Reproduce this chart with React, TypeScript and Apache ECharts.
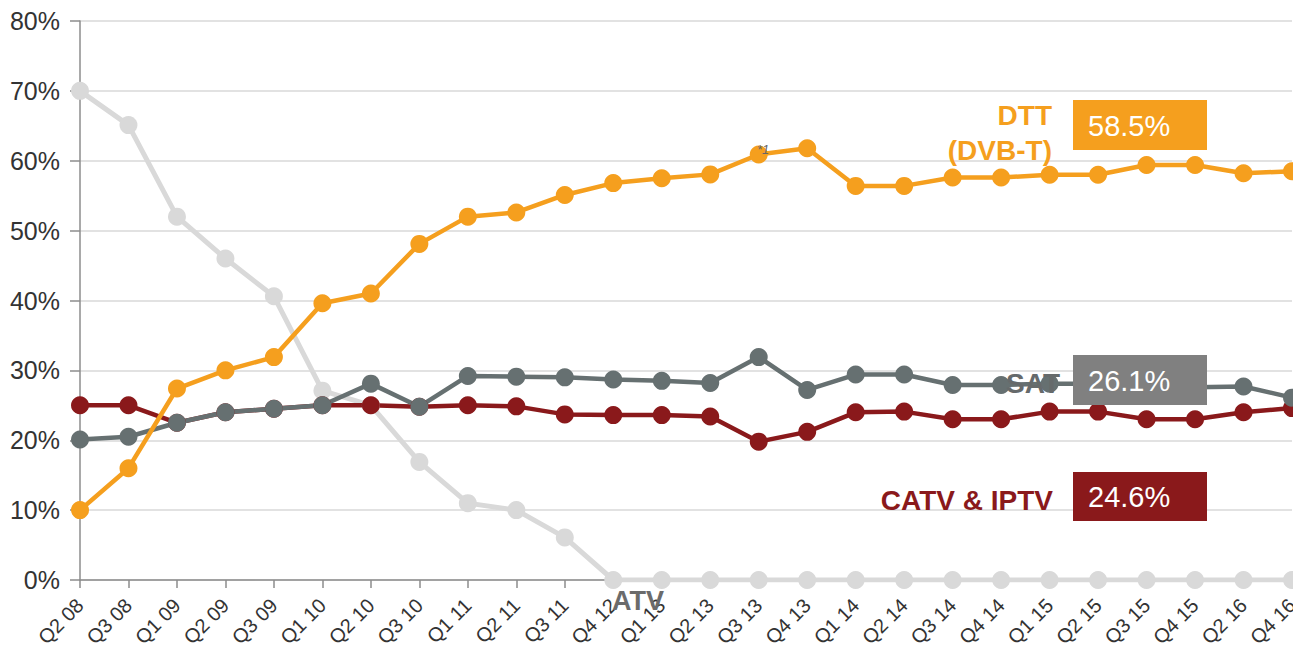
import React, { useEffect, useRef } from "react";
import * as echarts from "echarts";

const categories = [
  "Q2 08", "Q3 08", "Q1 09", "Q2 09", "Q3 09", "Q1 10", "Q2 10", "Q3 10",
  "Q1 11", "Q2 11", "Q3 11", "Q4 12", "Q1 13", "Q2 13", "Q3 13", "Q4 13",
  "Q1 14", "Q2 14", "Q3 14", "Q4 14", "Q1 15", "Q2 15", "Q3 15", "Q4 15",
  "Q2 16", "Q4 16",
];

const dttValues = [
  10, 16, 27.4, 30, 31.9, 39.6, 41, 48.1, 52, 52.6, 55.1, 56.8, 57.5, 58.05,
  60.9, 61.8, 56.4, 56.4, 57.6, 57.6, 58.0, 58.0, 59.4, 59.4, 58.2, 58.5,
];
const satValues = [
  20.1, 20.5, 22.5, 24, 24.5, 25, 28.1, 24.8, 29.2, 29.1, 29, 28.7, 28.5, 28.2,
  31.9, 27.2, 29.4, 29.4, 27.9, 27.9, 28.1, 28.1, 27.6, 27.6, 27.7, 26.1,
];
const catvValues = [
  25, 25, 22.5, 24, 24.5, 25, 25, 24.8, 25, 24.85, 23.7, 23.6, 23.6, 23.4,
  19.8, 21.2, 24, 24.1, 23, 23, 24.1, 24.1, 23, 23, 24, 24.6,
];
const atvValues = [
  70, 65.1, 52, 46, 40.6, 27.1, 25, 16.9, 11, 10, 6.1, 0, 0, 0, 0, 0, 0, 0, 0,
  0, 0, 0, 0, 0, 0, 0,
];

const yTicks = [0, 10, 20, 30, 40, 50, 60, 70, 80];

const ORANGE = "#F59F1E";
const RED = "#8A191B";
const SAT = "#667071";
const ATV = "#D9D9D9";
const BOXGRAY = "#808080";
const FONT = "'Liberation Sans', Arial, sans-serif";

function lineSeries(name: string, data: number[], color: string, width: number) {
  return {
    name,
    type: "line",
    data,
    symbol: "circle",
    symbolSize: 18,
    lineStyle: { color, width },
    itemStyle: { color },
    emphasis: { disabled: true },
    silent: true,
  };
}

export default function App() {
  const ref = useRef<HTMLDivElement>(null);

  useEffect(() => {
    document.body.style.margin = "0";
    if (!ref.current) return;
    const chart = echarts.init(ref.current, undefined, { renderer: "svg" });
    const last = (a: number[]) => a[a.length - 1].toFixed(1) + "%";

    chart.setOption({
      animation: false,
      textStyle: { fontFamily: FONT },
      grid: {
        left: 80,
        right: 1,
        top: 21,
        bottom: 72,
        containLabel: false,
        outerBoundsMode: "none",
      },
      xAxis: {
        type: "category",
        data: categories,
        boundaryGap: false,
        axisLine: { lineStyle: { color: "#8c8c8c", width: 1.5 } },
        axisTick: { show: true, length: 8, lineStyle: { color: "#8c8c8c", width: 1.5 }, alignWithLabel: true },
        axisLabel: {
          interval: 0,
          rotate: 45,
          margin: 22,
          fontSize: 20,
          color: "#333",
          fontFamily: FONT,
        },
        splitLine: { show: false },
      },
      yAxis: {
        type: "value",
        min: yTicks[0],
        max: yTicks[yTicks.length - 1],
        interval: 10,
        axisLine: { show: true, lineStyle: { color: "#8c8c8c", width: 1.5 } },
        axisTick: { show: true, length: 10, lineStyle: { color: "#8c8c8c", width: 1.5 } },
        axisLabel: {
          formatter: (v: number) => v + "%",
          fontSize: 25,
          color: "#333",
          margin: 20,
          fontFamily: FONT,
        },
        splitLine: { lineStyle: { color: "#d9d9d9", width: 1.5 } },
      },
      series: [
        lineSeries("ATV", atvValues, ATV, 5),
        lineSeries("CATV & IPTV", catvValues, RED, 4.5),
        lineSeries("SAT", satValues, SAT, 4.5),
        lineSeries("DTT", dttValues, ORANGE, 4.5),
      ],
      graphic: [
        {
          type: "text",
          z: 100,
          style: {
            x: 1052, y: 115, text: "DTT", align: "right", verticalAlign: "middle",
            font: `bold 28px ${FONT}`, fill: ORANGE,
          },
        },
        {
          type: "text",
          z: 100,
          style: {
            x: 1052, y: 150, text: "(DVB-T)", align: "right", verticalAlign: "middle",
            font: `bold 28px ${FONT}`, fill: ORANGE,
          },
        },
        {
          type: "rect", z: 100,
          shape: { x: 1073, y: 100, width: 134, height: 50 },
          style: { fill: ORANGE },
        },
        {
          type: "text", z: 101,
          style: {
            x: 1088, y: 126, text: last(dttValues), align: "left", verticalAlign: "middle",
            font: `29px ${FONT}`, fill: "#fff",
          },
        },
        {
          type: "text", z: 100,
          style: {
            x: 1060, y: 383, text: "SAT", align: "right", verticalAlign: "middle",
            font: `bold 28px ${FONT}`, fill: "#666a6b",
          },
        },
        {
          type: "rect", z: 100,
          shape: { x: 1073, y: 355, width: 134, height: 50 },
          style: { fill: BOXGRAY },
        },
        {
          type: "text", z: 101,
          style: {
            x: 1088, y: 381, text: last(satValues), align: "left", verticalAlign: "middle",
            font: `29px ${FONT}`, fill: "#fff",
          },
        },
        {
          type: "text", z: 100,
          style: {
            x: 1053, y: 500, text: "CATV & IPTV", align: "right", verticalAlign: "middle",
            font: `bold 28px ${FONT}`, fill: RED,
          },
        },
        {
          type: "rect", z: 100,
          shape: { x: 1073, y: 472, width: 134, height: 49 },
          style: { fill: RED },
        },
        {
          type: "text", z: 101,
          style: {
            x: 1088, y: 497, text: last(catvValues), align: "left", verticalAlign: "middle",
            font: `29px ${FONT}`, fill: "#fff",
          },
        },
        {
          type: "text", z: 100,
          style: {
            x: 612, y: 601, text: "ATV", align: "left", verticalAlign: "middle",
            font: `bold 27px ${FONT}`, fill: "#6b6b6b",
          },
        },
        {
          type: "text", z: 100,
          style: {
            x: 757, y: 149, text: "*1", align: "left", verticalAlign: "middle",
            font: `italic 13px ${FONT}`, fill: "#666",
          },
        },
      ],
    });

    return () => chart.dispose();
  }, []);

  return <div ref={ref} style={{ width: 1293, height: 652 }} />;
}
